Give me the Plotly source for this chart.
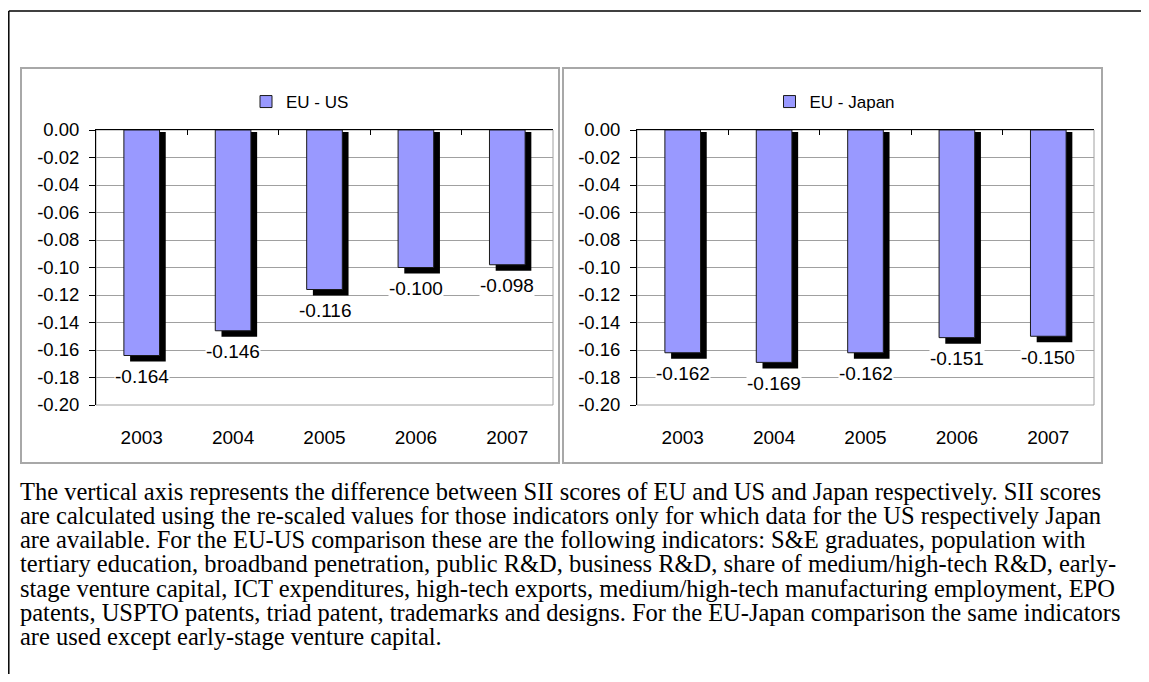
import plotly.graph_objects as go

# data
years = ["2003", "2004", "2005", "2006", "2007"]
eu_us = [-0.164, -0.146, -0.116, -0.100, -0.098]
eu_japan = [-0.162, -0.169, -0.162, -0.151, -0.150]
y_ticks = [0.0, -0.02, -0.04, -0.06, -0.08, -0.10, -0.12, -0.14, -0.16, -0.18, -0.20]
y_ticktext = [f"{v:.2f}" for v in y_ticks]

note_lines = [
    "The vertical axis represents the difference between SII scores of EU and US and Japan respectively. SII scores",
    "are calculated using the re-scaled values for those indicators only for which data for the US respectively Japan",
    "are available. For the EU-US comparison these are the following indicators: S&E graduates, population with",
    "tertiary education, broadband penetration, public R&D, business R&D, share of medium/high-tech R&D, early-",
    "stage venture capital, ICT expenditures, high-tech exports, medium/high-tech manufacturing employment, EPO",
    "patents, USPTO patents, triad patent, trademarks and designs. For the EU-Japan comparison the same indicators",
    "are used except early-stage venture capital.",
]

# the page body keeps its default 8px margin, so the figure is 16px smaller
PAGE_MARGIN = 8
W, H = 1149 - 2 * PAGE_MARGIN, 682 - 2 * PAGE_MARGIN
BAR = "#9999FF"
GRID = "#A0A0A0"
SANS = "Liberation Sans"
SERIF = "Liberation Serif"
BAR_W = 0.39
SHADOW_DX = 0.068
SHADOW_DY = 0.0044


def px_x(p):
    return (p - PAGE_MARGIN) / W


def px_y(p):
    return 1 - (p - PAGE_MARGIN) / H


panels = [
    dict(values=eu_us, name="EU - US", box=(21, 559), plot=(96, 553), legend_x=300,
         xs="x", xb="x2", y="y", legend="legend"),
    dict(values=eu_japan, name="EU - Japan", box=(563, 1102), plot=(637, 1094), legend_x=835,
         xs="x3", xb="x4", y="y2", legend="legend2"),
]

fig = go.Figure()
layout = {}
shapes = []
annotations = []

for p in panels:
    vals = p["values"]
    # black drop shadow behind each bar
    fig.add_trace(go.Bar(
        x=years, y=[v + 0.0015 - SHADOW_DY for v in vals], base=-0.0015,
        width=BAR_W, offset=-BAR_W / 2 + SHADOW_DX,
        marker=dict(color="black", line=dict(width=0)),
        xaxis=p["xs"], yaxis=p["y"], showlegend=False, hoverinfo="skip",
    ))
    fig.add_trace(go.Bar(
        x=years, y=vals, name=p["name"],
        width=BAR_W, offset=-BAR_W / 2,
        marker=dict(color=BAR, line=dict(color="#1a1a1a", width=1)),
        xaxis=p["xb"], yaxis=p["y"], legend=p["legend"],
    ))

    dom_x = [px_x(p["plot"][0]), px_x(p["plot"][1])]
    xs_name = "xaxis" + p["xs"][1:]
    xb_name = "xaxis" + p["xb"][1:]
    y_name = "yaxis" + p["y"][1:]
    layout[xs_name] = dict(
        domain=dom_x, type="category", range=[-0.5, 4.5], anchor=p["y"], automargin=False,
        showgrid=False, showline=False, ticks="", ticklabelstandoff=19,
        tickfont=dict(family=SANS, size=19, color="black"),
    )
    layout[xb_name] = dict(
        overlaying=p["xs"], side="top", type="category", range=[-0.5, 4.5], anchor=p["y"],
        automargin=False,
        showgrid=False, showline=True, linecolor="black", linewidth=1,
        ticks="inside", ticklen=5, tickcolor="black", tickson="boundaries",
        showticklabels=False,
    )
    layout[y_name] = dict(
        domain=[px_y(405), px_y(130)], range=[-0.2, 0], anchor=p["xs"], automargin=False,
        tickvals=y_ticks, ticktext=y_ticktext,
        ticks="outside", ticklen=6, tickcolor="black", ticklabelstandoff=6,
        showline=True, linecolor="black", linewidth=1,
        showgrid=True, gridcolor=GRID, gridwidth=1, zeroline=False,
        tickfont=dict(family=SANS, size=18.5, color="black"),
    )
    layout[p["legend"]] = dict(
        x=px_x(p["legend_x"]), xanchor="center", y=px_y(102), yanchor="middle",
        orientation="h", bgcolor="rgba(0,0,0,0)",
        font=dict(family=SANS, size=17, color="black"),
    )

    # plot area border and panel frame
    shapes.append(dict(type="rect", xref=p["xs"] + " domain", yref=p["y"] + " domain",
                       x0=0, x1=1, y0=0, y1=1, line=dict(color=GRID, width=1), layer="below"))
    shapes.append(dict(type="rect", xref="paper", yref="paper",
                       x0=px_x(p["box"][0]), x1=px_x(p["box"][1]), y0=px_y(463), y1=px_y(68),
                       line=dict(color="#A8A8A8", width=2)))

    for i, v in enumerate(vals):
        annotations.append(dict(
            x=i, y=v, xref=p["xs"], yref=p["y"], text=f"{v:.3f}", showarrow=False,
            yshift=-21, bgcolor="white", borderpad=0,
            font=dict(family=SANS, size=19, color="black"),
        ))

# outer frame lines of the page
shapes.append(dict(type="line", xref="paper", yref="paper", x0=px_x(8.8), x1=1,
                   y0=px_y(11), y1=px_y(11), line=dict(color="black", width=1.5)))
shapes.append(dict(type="line", xref="paper", yref="paper", x0=px_x(8.8), x1=px_x(8.8),
                   y0=0, y1=px_y(11), line=dict(color="black", width=1.5)))

for i, line in enumerate(note_lines):
    annotations.append(dict(
        x=px_x(18), y=px_y(491 + i * 24.3), xref="paper", yref="paper",
        xanchor="left", yanchor="middle", text=line, showarrow=False,
        font=dict(family=SERIF, size=24.5, color="black"),
    ))

fig.update_layout(
    width=W, height=H, margin=dict(l=0, r=0, t=0, b=0),
    paper_bgcolor="white", plot_bgcolor="white",
    barmode="overlay", shapes=shapes, annotations=annotations,
    **layout,
)

fig.write_html("out.html")
